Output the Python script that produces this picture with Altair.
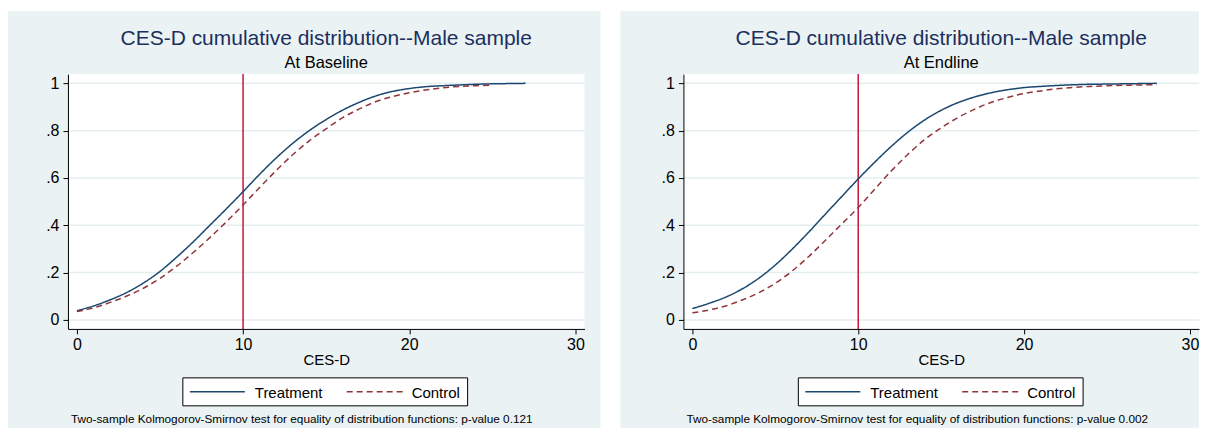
import altair as alt
import pandas as pd

FONT = "Liberation Sans"
BG = "#EAF2F3"
GRID = "#E4EEEF"
NAVY = "#1A476F"
MAROON = "#90353B"
REDLINE = "#C8143C"
TITLE_COLOR = "#1C2F5E"

# ---- data ----
series_labels = ["Treatment", "Control"]
x_ticks = [0, 10, 20, 30]
y_ticks = [0, 0.2, 0.4, 0.6, 0.8, 1.0]
cutoff = [10]

main_title = "CES-D cumulative distribution--Male sample"
subtitles = ["At Baseline", "At Endline"]
notes = [
    "Two-sample Kolmogorov-Smirnov test for equality of distribution functions: p-value 0.121",
    "Two-sample Kolmogorov-Smirnov test for equality of distribution functions: p-value 0.002",
]

base_treat_x = list(range(0, 28))
base_treat_y = [0.039, 0.059, 0.085, 0.116, 0.156, 0.205, 0.265, 0.330, 0.400, 0.470,
                0.542, 0.616, 0.685, 0.747, 0.801, 0.847, 0.887, 0.920, 0.947, 0.966,
                0.978, 0.986, 0.990, 0.993, 0.996, 0.998, 0.999, 1.000]
base_ctrl_x = list(range(0, 26))
base_ctrl_y = [0.035, 0.051, 0.074, 0.101, 0.134, 0.176, 0.227, 0.285, 0.348, 0.415,
               0.486, 0.560, 0.632, 0.699, 0.758, 0.808, 0.855, 0.892, 0.923, 0.944,
               0.960, 0.972, 0.981, 0.987, 0.990, 0.993]

end_treat_x = list(range(0, 29))
end_treat_y = [0.048, 0.070, 0.096, 0.131, 0.176, 0.232, 0.298, 0.370, 0.446, 0.521,
               0.596, 0.667, 0.734, 0.794, 0.845, 0.886, 0.918, 0.942, 0.960, 0.973,
               0.982, 0.987, 0.991, 0.994, 0.996, 0.997, 0.998, 0.999, 1.000]
end_ctrl_x = list(range(0, 29))
end_ctrl_y = [0.030, 0.042, 0.059, 0.084, 0.115, 0.155, 0.206, 0.267, 0.335, 0.405,
              0.475, 0.553, 0.630, 0.700, 0.762, 0.812, 0.855, 0.890, 0.919, 0.940,
              0.957, 0.968, 0.977, 0.983, 0.987, 0.990, 0.992, 0.993, 0.995]


def panel(tx, ty, cx, cy, subtitle, note, W, H, left_pad, right_pad):
    df = pd.DataFrame({
        "cesd": tx + cx,
        "F": ty + cy,
        "group": [series_labels[0]] * len(tx) + [series_labels[1]] * len(cx),
    })
    one = pd.DataFrame({"k": [0]})
    xs = alt.Scale(domain=[-0.54, 30.55], nice=False, zero=False)
    ys = alt.Scale(domain=[-0.038, 1.039], nice=False, zero=False)
    x_axis = alt.Axis(values=x_ticks, grid=False, domainColor="black", domainWidth=1,
                      tickColor="black", tickSize=5, labelFont=FONT, labelFontSize=16,
                      labelColor="black", labelPadding=3, labelFlush=False,
                      title="CES-D", titleFont=FONT, titleFontSize=15,
                      titleFontWeight="normal", titleColor="black", titlePadding=0,
                      zindex=1)
    y_axis = alt.Axis(values=y_ticks, grid=False, domainColor="black", domainWidth=1,
                      tickColor="black", tickSize=5, labelFont=FONT, labelFontSize=16,
                      labelColor="black", labelPadding=4, labelFlush=False,
                      labelExpr="replace(format(datum.value, '~g'), '0.', '.')",
                      title=None, zindex=1)

    bg = alt.Chart(one).mark_rect(color=BG).encode(
        x=alt.value(-left_pad), x2=alt.value(W + right_pad),
        y=alt.value(-63), y2=alt.value(H + 99))
    white = alt.Chart(one).mark_rect(color="white").encode(
        x=alt.value(0), x2=alt.value(W), y=alt.value(0), y2=alt.value(H))
    grid = alt.Chart(pd.DataFrame({"t": y_ticks})).mark_rule(
        color=GRID, strokeWidth=1.5).encode(
        y=alt.Y("t:Q", scale=ys, axis=y_axis))
    vline = alt.Chart(pd.DataFrame({"c": cutoff})).mark_rule(
        color=REDLINE, strokeWidth=1.5).encode(
        x=alt.X("c:Q", scale=xs, axis=x_axis))
    lines = alt.Chart(df).mark_line(strokeWidth=1.5, interpolate="monotone").encode(
        x=alt.X("cesd:Q", scale=xs, axis=x_axis),
        y=alt.Y("F:Q", scale=ys, axis=y_axis),
        color=alt.Color("group:N", scale=alt.Scale(domain=series_labels, range=[NAVY, MAROON]), legend=None),
        strokeDash=alt.StrokeDash("group:N", scale=alt.Scale(domain=series_labels, range=[[1, 0], [6, 4]]), legend=None),
    )

    title = alt.Chart(one).mark_text(text=main_title, font=FONT, fontSize=21, color=TITLE_COLOR,
                                     align="center", baseline="middle").encode(
        x=alt.value(W / 2), y=alt.value(-35))
    sub = alt.Chart(one).mark_text(text=subtitle, font=FONT, fontSize=16.5, color="black",
                                   align="center", baseline="middle").encode(
        x=alt.value(W / 2), y=alt.value(-11))

    # legend box
    lx0, lx1, ly0, ly1 = 115, 400, 304, 332
    lyc = (ly0 + ly1) / 2
    lbox = alt.Chart(one).mark_rect(fill="white", stroke="black", strokeWidth=1).encode(
        x=alt.value(lx0), x2=alt.value(lx1), y=alt.value(ly0), y2=alt.value(ly1))
    l1 = alt.Chart(one).mark_rule(color=NAVY, strokeWidth=1.5).encode(
        x=alt.value(lx0 + 7), x2=alt.value(lx0 + 62), y=alt.value(lyc))
    l2 = alt.Chart(one).mark_rule(color=MAROON, strokeWidth=1.5, strokeDash=[6, 4]).encode(
        x=alt.value(lx0 + 164), x2=alt.value(lx0 + 220), y=alt.value(lyc))
    t1 = alt.Chart(one).mark_text(text=series_labels[0], font=FONT, fontSize=15, color="black",
                                  align="left", baseline="middle").encode(
        x=alt.value(lx0 + 72), y=alt.value(lyc + 1))
    t2 = alt.Chart(one).mark_text(text=series_labels[1], font=FONT, fontSize=15, color="black",
                                  align="left", baseline="middle").encode(
        x=alt.value(lx0 + 229), y=alt.value(lyc + 1))
    nt = alt.Chart(one).mark_text(text=note, font=FONT, fontSize=11.8, color="black",
                                  align="left", baseline="middle").encode(
        x=alt.value(3), y=alt.value(345))

    return alt.layer(bg, white, grid, vline, lines, title, sub, lbox, l1, l2, t1, t2, nt).properties(
        width=W, height=H)


left = panel(base_treat_x, base_treat_y, base_ctrl_x, base_ctrl_y, subtitles[0], notes[0], 517, 255, 60, 16)
right = panel(end_treat_x, end_treat_y, end_ctrl_x, end_ctrl_y, subtitles[1], notes[1], 516, 255, 63, 0)

chart = alt.hconcat(left, right, spacing=20).properties(
    padding={"left": 0, "top": 3, "right": 0, "bottom": 0},
    background="white",
).configure_view(stroke=None)

chart.save("out.html", embed_options={"renderer": "svg", "actions": False})
